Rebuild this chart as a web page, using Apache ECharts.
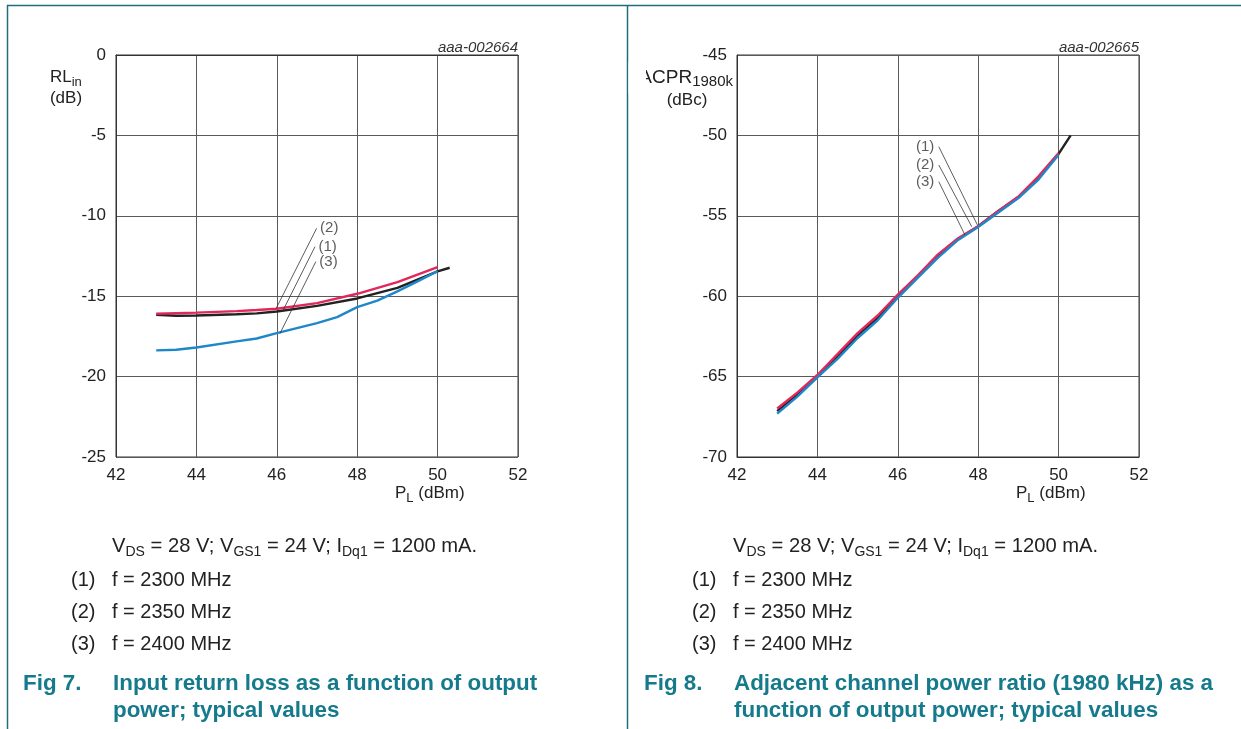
<!DOCTYPE html>
<html><head><meta charset="utf-8">
<script src="https://cdn.jsdelivr.net/npm/echarts@6/dist/echarts.min.js"></script>
<style>html,body{margin:0;padding:0;background:#fff}#c{width:1241px;height:729px}</style>
</head><body><div id="c"></div>
<script>
// ---------- data ----------
const xTickLabels = [42, 44, 46, 48, 50, 52];
const rlTickLabels = [0, -5, -10, -15, -20, -25];
const acprTickLabels = [-45, -50, -55, -60, -65, -70];

// Fig 7: input return loss (dB) vs PL (dBm)
const rlX_2300 = [43, 43.5, 44, 45, 45.5, 46, 47, 48, 49, 50, 50.3];
const rlY_2300 = [-16.15, -16.22, -16.2, -16.12, -16.07, -15.95, -15.6, -15.14, -14.48, -13.46, -13.23];
const rlX_2350 = [43, 44, 45, 45.5, 46, 47, 48, 49, 50];
const rlY_2350 = [-16.09, -16.02, -15.93, -15.86, -15.78, -15.43, -14.85, -14.13, -13.19];
const rlX_2400 = [43, 43.5, 44, 45, 45.5, 46, 47, 47.5, 48, 48.5, 49, 49.5, 50];
const rlY_2400 = [-18.37, -18.33, -18.19, -17.81, -17.63, -17.3, -16.67, -16.3, -15.68, -15.27, -14.7, -14.08, -13.44];

// Fig 8: ACPR 1980k (dBc) vs PL (dBm)
const acX_2300 = [43, 43.5, 44, 44.5, 45, 45.5, 46, 46.5, 47, 47.5, 48, 48.5, 49, 49.5, 50, 50.3];
const acY_2300 = [-67.15, -66.1, -65.0, -63.75, -62.45, -61.35, -60.0, -58.75, -57.5, -56.45, -55.65, -54.7, -53.85, -52.65, -51.15, -50.0];
const acX_2350 = [43, 43.5, 44, 44.5, 45, 45.5, 46, 46.5, 47, 47.5, 48, 48.5, 49, 49.5, 50];
const acY_2350 = [-66.98, -66.0, -64.9, -63.6, -62.3, -61.2, -59.9, -58.7, -57.4, -56.4, -55.65, -54.7, -53.8, -52.55, -51.1];
const acX_2400 = [43, 43.5, 44, 44.5, 45, 45.5, 46, 46.5, 47, 47.5, 48, 48.5, 49, 49.5, 50];
const acY_2400 = [-67.3, -66.25, -65.05, -63.9, -62.6, -61.5, -60.1, -58.85, -57.6, -56.5, -55.7, -54.8, -53.9, -52.75, -51.2];

// leader annotations: [labelX, labelY, pointX, pointY, text]
const rlNotes = [
  [46.99, -10.78, 45.98, -15.78, '(2)'],
  [46.95, -11.92, 46.16, -15.86, '(1)'],
  [46.97, -12.85, 46.08, -17.31, '(3)']
];
const acNotes = [
  [47.02, -50.70, 47.98, -55.57, '(1)'],
  [47.02, -51.84, 47.84, -55.68, '(2)'],
  [47.02, -52.88, 47.67, -56.19, '(3)']
];

// ---------- helpers ----------
const FONT = '"Liberation Sans", Arial, Helvetica, sans-serif';
const mctx = document.createElement('canvas').getContext('2d');
function fontStr(size, bold, italic) { return (italic ? 'italic ' : '') + (bold ? 'bold ' : '') + size + 'px ' + FONT; }
function tw(t, size, bold, italic) { mctx.font = fontStr(size, bold, italic); return mctx.measureText(t).width; }
function txt(x, y, t, size, color, opts) {
  opts = opts || {};
  const al = opts.align || 'left';
  return { type: 'text', x: x, y: y, z: opts.z || 100, silent: true,
    style: { text: t, font: fontStr(size, opts.bold, opts.italic), fill: color,
      textAlign: al, align: al, textVerticalAlign: 'middle', verticalAlign: 'middle' } };
}
function run(x, y, parts, color, rightAlign) {
  let total = 0;
  parts.forEach(p => total += tw(p[0], p[1], p[3]));
  let cx = rightAlign ? x - total : x;
  const out = [];
  parts.forEach(p => {
    out.push(txt(cx, y + (p[2] || 0), p[0], p[1], color, { bold: p[3] }));
    cx += tw(p[0], p[1], p[3]);
  });
  return out;
}
function pairs(xs, ys) { return xs.map((x, i) => [x, ys[i]]); }

const C_RED = '#e2275a', C_BLK = '#222222', C_BLU = '#1e87c9';
const TEAL = '#157a8c', TXT = '#222222';

function lineSeries(gi, xs, ys, color) {
  return { type: 'line', xAxisIndex: gi, yAxisIndex: gi, data: pairs(xs, ys), showSymbol: false,
    symbol: 'none', silent: true, lineStyle: { color: color, width: 2.4 }, z: 3 };
}
function noteSeries(gi, notes, side) {
  const s = [];
  notes.forEach(n => {
    s.push({ type: 'line', xAxisIndex: gi, yAxisIndex: gi, data: [[n[0], n[1]], [n[2], n[3]]],
      symbol: 'none', silent: true, lineStyle: { color: '#333', width: 0.8 }, z: 4 });
  });
  s.push({ type: 'scatter', xAxisIndex: gi, yAxisIndex: gi, symbolSize: 1, silent: true,
    itemStyle: { color: 'rgba(0,0,0,0)' }, z: 5,
    data: notes.map(n => ({ value: [n[0], n[1]], name: n[4] })),
    label: { show: true, position: side, distance: side === 'right' ? 3 : 4, formatter: p => p.name,
      fontSize: 15, fontFamily: FONT, color: '#333' } });
  return s;
}

const axisCommonX = {
  type: 'value', min: 42, max: 52, interval: 2,
  axisLine: { show: true, lineStyle: { color: '#333', width: 1 } },
  axisTick: { show: false },
  splitLine: { show: true, lineStyle: { color: '#5a5a5a', width: 1 } },
  axisLabel: { fontSize: 17, fontFamily: FONT, color: TXT, margin: 10,
    formatter: v => xTickLabels.indexOf(v) >= 0 ? String(v) : '' }
};
function yAxis(gi, min, max, ticks) {
  return { type: 'value', gridIndex: gi, min: min, max: max, interval: 5,
    axisLine: { show: true, lineStyle: { color: '#333', width: 1 } },
    axisTick: { show: false },
    splitLine: { show: true, lineStyle: { color: '#5a5a5a', width: 1 } },
    axisLabel: { fontSize: 17, fontFamily: FONT, color: TXT, margin: 10,
      formatter: v => ticks.indexOf(v) >= 0 ? String(v) : '' } };
}

// ---------- text / frame ----------
const OFF = 621;
let graphics = [];
graphics.push({ type: 'line', silent: true, z: 50, shape: { x1: 7, y1: 5.5, x2: 1241, y2: 5.5 }, style: { stroke: '#1f6e7f', lineWidth: 1.5 } });
graphics.push({ type: 'line', silent: true, z: 50, shape: { x1: 7.5, y1: 5, x2: 7.5, y2: 729 }, style: { stroke: '#1f6e7f', lineWidth: 1.5 } });
graphics.push({ type: 'line', silent: true, z: 50, shape: { x1: 627.5, y1: 5, x2: 627.5, y2: 729 }, style: { stroke: '#1f6e7f', lineWidth: 1.5 } });

graphics = graphics.concat(run(50, 77, [['RL', 17, 0], ['in', 13, 5]], TXT));
graphics.push(txt(66, 98, '(dB)', 17, TXT, { align: 'center' }));
graphics = graphics.concat(run(733, 78, [['ACPR', 19, 0], ['1980k', 15, 4]], TXT, true));
graphics.push({ type: 'rect', silent: true, z: 101, shape: { x: 628.5, y: 62, width: 17.5, height: 32 }, style: { fill: '#fff' } });
graphics.push(txt(687, 100, '(dBc)', 17, TXT, { align: 'center' }));
[0, OFF].forEach(o => {
  graphics = graphics.concat(run(395 + o, 493, [['P', 17, 0], ['L', 13, 5], [' (dBm)', 17, 0]], TXT));
});
graphics.push(txt(518, 48, 'aaa-002664', 15, '#333', { align: 'right', italic: true }));
graphics.push(txt(518 + OFF, 48, 'aaa-002665', 15, '#333', { align: 'right', italic: true }));

const freqs = ['f = 2300 MHz', 'f = 2350 MHz', 'f = 2400 MHz'];
const itemY = [580.5, 612.5, 644];
[0, OFF].forEach(o => {
  graphics = graphics.concat(run(112 + o, 546.5, [
    ['V', 20.2, 0], ['DS', 14, 6], [' = 28 V; V', 20.2, 0], ['GS1', 14, 6],
    [' = 24 V; I', 20.2, 0], ['Dq1', 14, 6], [' = 1200 mA.', 20.2, 0]], TXT));
  freqs.forEach((f, i) => {
    graphics.push(txt(71 + o, itemY[i], '(' + (i + 1) + ')', 20, TXT));
    graphics.push(txt(112 + o, itemY[i], f, 20, TXT));
  });
});
graphics.push(txt(23, 684, 'Fig 7.', 22.4, TEAL, { bold: true }));
graphics.push(txt(113, 684, 'Input return loss as a function of output', 22.4, TEAL, { bold: true }));
graphics.push(txt(113, 711, 'power; typical values', 22.4, TEAL, { bold: true }));
graphics.push(txt(23 + OFF, 684, 'Fig 8.', 22.4, TEAL, { bold: true }));
graphics.push(txt(113 + OFF, 684, 'Adjacent channel power ratio (1980 kHz) as a', 22.4, TEAL, { bold: true }));
graphics.push(txt(113 + OFF, 711, 'function of output power; typical values', 22.4, TEAL, { bold: true }));

// ---------- chart ----------
const chart = echarts.init(document.getElementById('c'), null, { renderer: 'canvas' });
chart.setOption({
  animation: false,
  backgroundColor: '#fff',
  grid: [
    { left: 116, top: 55, width: 402, height: 402, show: true, borderColor: '#333', borderWidth: 1 },
    { left: 116 + OFF, top: 55, width: 402, height: 402, show: true, borderColor: '#333', borderWidth: 1 }
  ],
  xAxis: [Object.assign({ gridIndex: 0 }, axisCommonX), Object.assign({ gridIndex: 1 }, axisCommonX)],
  yAxis: [yAxis(0, -25, 0, rlTickLabels), yAxis(1, -70, -45, acprTickLabels)],
  series: [
    lineSeries(0, rlX_2300, rlY_2300, C_BLK),
    lineSeries(0, rlX_2400, rlY_2400, C_BLU),
    lineSeries(0, rlX_2350, rlY_2350, C_RED),
    lineSeries(1, acX_2300, acY_2300, C_BLK),
    lineSeries(1, acX_2350, acY_2350, C_RED),
    lineSeries(1, acX_2400, acY_2400, C_BLU)
  ].concat(noteSeries(0, rlNotes, 'right')).concat(noteSeries(1, acNotes, 'left')),
  graphic: { elements: graphics }
});
</script></body></html>
